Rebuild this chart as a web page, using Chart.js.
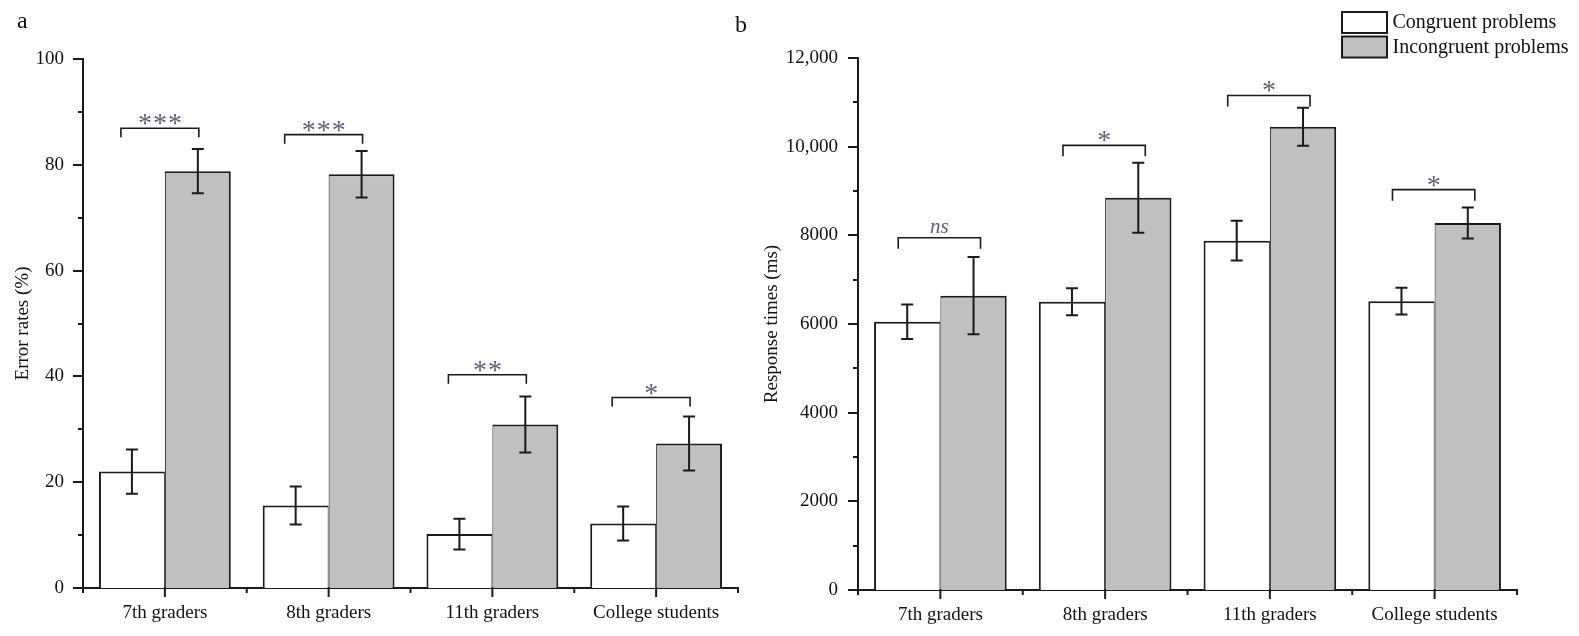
<!DOCTYPE html>
<html>
<head>
<meta charset="utf-8">
<script src="https://cdn.jsdelivr.net/npm/chart.js@4.4.0/dist/chart.umd.min.js"></script>
<style>
html, body { margin: 0; padding: 0; background: #fff; }
#wrap { position: relative; width: 1579px; height: 636px; }
#boxA { position: absolute; left: 0; top: 0; width: 740px; height: 636px; }
#boxB { position: absolute; left: 730px; top: 0; width: 849px; height: 636px; }
</style>
</head>
<body>
<div id="wrap">
  <div id="boxA"><canvas id="chartA"></canvas></div>
  <div id="boxB"><canvas id="chartB"></canvas></div>
</div>
<script>
// groups on the x axis
const groups = ['7th graders', '8th graders', '11th graders', 'College students'];
const seriesNames = ['Congruent problems', 'Incongruent problems'];

// panel a: error rates (%)
const errCong = [22.0, 15.6, 10.2, 12.2];
const errCongSE = [4.2, 3.6, 2.9, 3.2];
const errIncong = [78.8, 78.2, 30.9, 27.3];
const errIncongSE = [4.2, 4.4, 5.3, 5.1];
const errSig = ['***', '***', '**', '*'];
const errBracket = [86.9, 85.7, 40.3, 36.0];
const errTicks = [0, 20, 40, 60, 80, 100];

// panel b: response times (ms)
const rtCong = [6050, 6500, 7880, 6515];
const rtCongSE = [390, 305, 450, 300];
const rtIncong = [6640, 8850, 10450, 8280];
const rtIncongSE = [870, 790, 430, 350];
const rtSig = ['ns', '*', '*', '*'];
const rtBracket = [7944, 10030, 11155, 9030];
const rtTicks = [0, 2000, 4000, 6000, 8000, 10000, 12000];
const rtTickLabels = ['0', '2000', '4000', '6000', '8000', '10,000', '12,000'];

const serif = "'Liberation Serif', 'Times New Roman', serif";
const ink = '#1a1a1a';
const starInk = '#5e5e70';

// tick marks, error bars, significance brackets, panel letter, legend
function decor(o) {
  return {
    id: 'decor',
    afterDraw(chart) {
      const ctx = chart.ctx;
      const xs = chart.scales.x, ys = chart.scales.y, area = chart.chartArea;
      ctx.save();
      ctx.strokeStyle = ink;
      ctx.lineWidth = 2;

      // y ticks (major + minor)
      for (let v = 0; v <= o.ticks[o.ticks.length - 1]; v += o.minor) {
        const py = Math.round(ys.getPixelForValue(v));
        const len = o.ticks.includes(v) ? 10 : 5;
        ctx.beginPath();
        ctx.moveTo(area.left - len, py);
        ctx.lineTo(area.left, py);
        ctx.stroke();
      }
      // x ticks: long at group centers, short at boundaries
      for (let i = 0; i < groups.length; i++) {
        const c = xs.getPixelForValue(i);
        ctx.beginPath(); ctx.moveTo(c, area.bottom); ctx.lineTo(c, area.bottom + 9); ctx.stroke();
      }
      for (let i = 0; i <= groups.length; i++) {
        const b = xs.getPixelForValue(i - 0.5);
        ctx.beginPath(); ctx.moveTo(b, area.bottom); ctx.lineTo(b, area.bottom + 5); ctx.stroke();
      }

      // error bars
      o.se.forEach((se, d) => {
        const meta = chart.getDatasetMeta(d);
        const vals = chart.data.datasets[d].data;
        meta.data.forEach((bar, j) => {
          const t = ys.getPixelForValue(vals[j] + se[j]);
          const b = ys.getPixelForValue(vals[j] - se[j]);
          ctx.beginPath();
          ctx.moveTo(bar.x, t); ctx.lineTo(bar.x, b);
          ctx.moveTo(bar.x - 6, t); ctx.lineTo(bar.x + 6, t);
          ctx.moveTo(bar.x - 6, b); ctx.lineTo(bar.x + 6, b);
          ctx.stroke();
        });
      });

      // significance brackets
      const m0 = chart.getDatasetMeta(0), m1 = chart.getDatasetMeta(1);
      ctx.lineWidth = 1.6;
      o.bracket.forEach((bv, j) => {
        const x0 = m0.data[j].x + o.off[0], x1 = m1.data[j].x + o.off[1];
        const py = ys.getPixelForValue(bv);
        ctx.beginPath();
        ctx.moveTo(x0, py + o.leg); ctx.lineTo(x0, py); ctx.lineTo(x1, py); ctx.lineTo(x1, py + o.leg);
        ctx.stroke();
        const mid = (x0 + x1) / 2;
        const s = o.sig[j];
        ctx.fillStyle = starInk;
        ctx.textAlign = 'center';
        ctx.textBaseline = 'alphabetic';
        if (s === 'ns') {
          ctx.font = `italic 21px ${serif}`;
          ctx.fillText(s, mid, py - 5);
        } else {
          ctx.font = `28px ${serif}`;
          const pitch = 15;
          for (let k = 0; k < s.length; k++) {
            ctx.fillText('*', mid + (k - (s.length - 1) / 2) * pitch, py + 4);
          }
        }
      });

      // panel letter
      ctx.fillStyle = '#111';
      ctx.textAlign = 'left';
      ctx.font = `24px ${serif}`;
      ctx.fillText(o.letter, o.letterX, o.letterY);

      // legend
      if (o.legend) {
        ctx.font = `20px ${serif}`;
        ctx.textBaseline = 'middle';
        chart.data.datasets.forEach((ds, d) => {
          const by = 12 + d * 24.5;
          ctx.fillStyle = ds.backgroundColor;
          ctx.fillRect(612, by, 45, 21);
          ctx.lineWidth = 2;
          ctx.strokeStyle = ink;
          ctx.strokeRect(612, by, 45, 21);
          ctx.fillStyle = '#111';
          ctx.fillText(ds.label, 662.5, by + 11);
        });
      }
      ctx.restore();
    }
  };
}

function makeChart(id, d) {
  return new Chart(document.getElementById(id), {
    type: 'bar',
    data: {
      labels: groups,
      datasets: [
        { label: seriesNames[0], data: d.cong, backgroundColor: '#ffffff', borderColor: ink,
          borderWidth: { top: 2, left: 2, right: 1, bottom: 0 } },
        { label: seriesNames[1], data: d.incong, backgroundColor: '#c0c0c0', borderColor: ink,
          borderWidth: { top: 2, left: 1, right: 2, bottom: 0 } }
      ]
    },
    options: {
      responsive: true,
      maintainAspectRatio: false,
      animation: false,
      datasets: { bar: { categoryPercentage: 0.805, barPercentage: 1.0 } },
      layout: { padding: d.padding },
      plugins: { legend: { display: false }, tooltip: { enabled: false } },
      scales: {
        x: {
          offset: true,
          grid: { display: false, drawTicks: false },
          border: { display: true, color: ink, width: 2 },
          ticks: { color: '#111', font: { family: serif, size: 19 }, padding: 14 },
          afterFit: (s) => { s.height = 40; }
        },
        y: {
          min: 0,
          max: d.ticks[d.ticks.length - 1],
          grid: { display: false, drawTicks: false },
          border: { display: true, color: ink, width: 2 },
          afterBuildTicks: (s) => { s.ticks = d.ticks.map(v => ({ value: v })); },
          ticks: {
            color: '#111', font: { family: serif, size: 19 }, padding: d.tickPad,
            callback: (v) => d.tickLabels[d.ticks.indexOf(v)]
          },
          title: {
            display: true, text: d.title, color: '#111',
            font: { family: serif, size: 19 }, padding: { top: d.titlePad, bottom: 0 }
          },
          afterFit: (s) => { s.width = d.axisWidth; }
        }
      }
    },
    plugins: [decor(d.decor)]
  });
}

makeChart('chartA', {
  cong: errCong, incong: errIncong, ticks: errTicks, tickLabels: errTicks.map(String),
  title: 'Error rates (%)', titlePad: 12, tickPad: 19, axisWidth: 83,
  padding: { top: 59, right: 2, bottom: 8, left: 0 },
  decor: { ticks: errTicks, minor: 10, se: [errCongSE, errIncongSE], bracket: errBracket, sig: errSig,
           off: [-11, 1], leg: 9, letter: 'a', letterX: 17, letterY: 28, legend: false }
});

makeChart('chartB', {
  cong: rtCong, incong: rtIncong, ticks: rtTicks, tickLabels: rtTickLabels,
  title: 'Response times (ms)', titlePad: 31, tickPad: 20, axisWidth: 128,
  padding: { top: 58, right: 62, bottom: 6, left: 0 },
  decor: { ticks: rtTicks, minor: 1000, se: [rtCongSE, rtIncongSE], bracket: rtBracket, sig: rtSig,
           off: [-9, 7], leg: 11, letter: 'b', letterX: 5, letterY: 32, legend: true }
});
</script>
</body>
</html>
